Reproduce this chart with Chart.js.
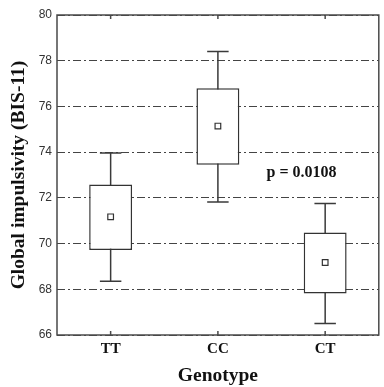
<!DOCTYPE html>
<html>
<head>
<meta charset="utf-8">
<script src="https://cdn.jsdelivr.net/npm/chart.js@4"></script>
<style>
  html, body { margin: 0; padding: 0; background: #fff; }
  canvas { display: block; }
</style>
</head>
<body>
<canvas id="boxChart" width="384" height="387"></canvas>
<script>
// --- Data ---
const genotypes = ['TT', 'CC', 'CT'];
const whiskerLow = [68.35, 71.82, 66.5];
const boxLow = [69.72, 73.45, 67.82];
const means = [71.17, 75.14, 69.17];
const boxHigh = [72.58, 76.8, 70.48];
const whiskerHigh = [73.96, 78.4, 71.75];
const yTicks = [66, 68, 70, 72, 74, 76, 78, 80];
const pLabel = 'p = 0.0108';

const serif = '"Liberation Serif", "Times New Roman", serif';
const sans = '"Liberation Sans", Arial, sans-serif';

// whiskers go under the boxes, frame and note on top
const boxPlotExtras = {
    id: 'boxPlotExtras',
    beforeDatasetsDraw(chart) {
        const { ctx, scales: { x, y } } = chart;
        const half = x.getPixelForValue(1) - x.getPixelForValue(0);
        const capHalf = half * 0.1;
        ctx.save();
        ctx.strokeStyle = '#3a3a3a';
        ctx.lineWidth = 1.5;
        genotypes.forEach((g, i) => {
            const cx = x.getPixelForValue(i);
            const lo = y.getPixelForValue(whiskerLow[i]);
            const hi = y.getPixelForValue(whiskerHigh[i]);
            ctx.beginPath();
            ctx.moveTo(cx, lo);
            ctx.lineTo(cx, hi);
            ctx.moveTo(cx - capHalf, lo);
            ctx.lineTo(cx + capHalf, lo);
            ctx.moveTo(cx - capHalf, hi);
            ctx.lineTo(cx + capHalf, hi);
            ctx.stroke();
        });
        ctx.restore();
    },
    afterDatasetsDraw(chart) {
        const { ctx, chartArea: a, scales: { x, y } } = chart;
        ctx.save();
        ctx.strokeStyle = '#4a4a4a';
        ctx.lineWidth = 1.5;
        ctx.strokeRect(a.left, a.top, a.right - a.left, a.bottom - a.top);
        // small inward ticks at the categories, top and bottom
        ctx.beginPath();
        genotypes.forEach((g, i) => {
            const cx = x.getPixelForValue(i);
            ctx.moveTo(cx, a.bottom);
            ctx.lineTo(cx, a.bottom - 4);
            ctx.moveTo(cx, a.top);
            ctx.lineTo(cx, a.top + 4);
        });
        ctx.stroke();

        ctx.fillStyle = '#111';
        ctx.font = 'bold 16px ' + serif;
        ctx.textAlign = 'center';
        ctx.textBaseline = 'middle';
        ctx.fillText(pLabel, x.getPixelForValue(1.78), y.getPixelForValue(73.1));
        ctx.restore();
    }
};

const ctx = document.getElementById('boxChart').getContext('2d');

new Chart(ctx, {
    type: 'bar',
    data: {
        labels: genotypes,
        datasets: [
            {
                type: 'line',
                label: 'Mean',
                data: means,
                showLine: false,
                pointStyle: 'rect',
                pointRadius: 4,
                pointBackgroundColor: '#fff',
                pointBorderColor: '#333',
                pointBorderWidth: 1.2,
                order: 0
            },
            {
                label: 'Box',
                data: genotypes.map((g, i) => [boxLow[i], boxHigh[i]]),
                backgroundColor: '#fff',
                borderColor: '#333',
                borderWidth: 1.5,
                borderSkipped: false,
                barPercentage: 0.4,
                categoryPercentage: 1,
                order: 1
            }
        ]
    },
    options: {
        responsive: false,
        animation: false,
        events: [],
        layout: { padding: { top: 15, right: 3, left: 0, bottom: 0 } },
        plugins: {
            legend: { display: false },
            tooltip: { enabled: false }
        },
        scales: {
            x: {
                grid: { display: false, drawTicks: false },
                border: { display: false },
                ticks: {
                    color: '#111',
                    padding: 5,
                    font: { family: serif, size: 15, weight: 'bold' }
                },
                title: {
                    display: true,
                    text: 'Genotype',
                    color: '#111',
                    font: { family: serif, size: 19.5, weight: 'bold', lineHeight: 1 },
                    padding: { top: 0, bottom: 1 }
                },
                afterFit(scale) { scale.height = 52; }
            },
            y: {
                min: 66,
                max: 80,
                afterBuildTicks(scale) {
                    scale.ticks = yTicks.map(v => ({ value: v }));
                },
                grid: {
                    color: '#444',
                    lineWidth: 1,
                    drawTicks: false
                },
                border: { display: false, dash: [8, 3, 2, 3] },
                ticks: {
                    color: '#333',
                    padding: 5,
                    font: { family: sans, size: 12 }
                },
                title: {
                    display: true,
                    text: 'Global impulsivity (BIS-11)',
                    color: '#111',
                    font: { family: serif, size: 19.5, weight: 'bold', lineHeight: 1 },
                    padding: { top: 9, bottom: 0 }
                },
                afterFit(scale) { scale.width = 57; }
            }
        }
    },
    plugins: [boxPlotExtras]
});
</script>
</body>
</html>
